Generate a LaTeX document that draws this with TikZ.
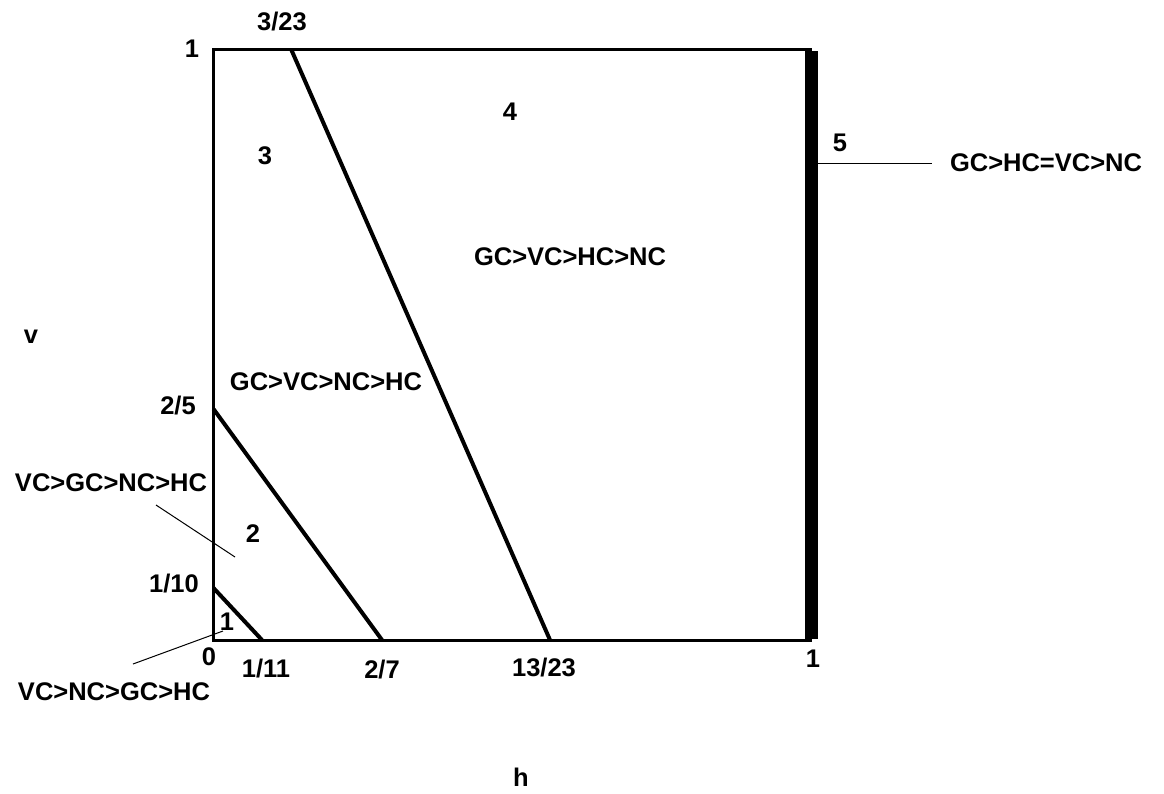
\documentclass[tikz,border=0pt]{standalone}
\usepackage{fontspec}
\setmainfont{Liberation Sans}
\begin{document}
\begin{tikzpicture}[x=1pt,y=-1pt,
  lbl/.style={inner sep=0pt,font=\fontsize{25.5}{30}\selectfont\bfseries},
  frame/.style={line width=3pt},
  bound/.style={line width=4pt},
  thin/.style={line width=1pt}]
\useasboundingbox (0,0) rectangle (1164,793);
% corners and tick points
\coordinate (O) at (213.5,640);
\coordinate (TL) at (213.5,49);
\coordinate (TR) at (811.5,49);
\coordinate (BR) at (811.5,640);
\coordinate (v110) at (213.5,588);
\coordinate (h111) at (262,640);
\coordinate (v25) at (213.5,409);
\coordinate (h27) at (382,640);
\coordinate (h323) at (291,49);
\coordinate (h1323) at (550,640);
% frame
\draw[frame] (BR) -- (O) -- (TL) -- (TR);
\draw[line width=13pt] ([yshift=-2pt]TR) -- ([yshift=1.5pt]BR);
% boundaries
\draw[bound] (v110) -- (h111);
\draw[bound] (v25) -- (h27);
\draw[bound] (h323) -- (h1323);
% axis labels
\node[lbl] (t1) at (192,49) {1};
\node[lbl] (t323) at (282,22) {3/23};
\node[lbl] (t0) at (209,657) {0};
\node[lbl] (t111) at (266,669) {1/11};
\node[lbl] (t27) at (382,670) {2/7};
\node[lbl] (t1323) at (544,668) {13/23};
\node[lbl] (tr1) at (813,659) {1};
\node[lbl] (t110) at (174,584) {1/10};
\node[lbl] (t25) at (178,406) {2/5};
\node[lbl] (vv) at (31,337) {v};
\node[lbl] (hh) at (521,777) {h};
% region numbers
\node[lbl] (r1) at (227,622) {1};
\node[lbl] (r2) at (253,534) {2};
\node[lbl] (r3) at (265,156) {3};
\node[lbl] (r4) at (510,112) {4};
\node[lbl] (r5) at (840,143) {5};
% orderings
\node[lbl] (o4) at (570,257) {GC>VC>HC>NC};
\node[lbl] (o3) at (326,382) {GC>VC>NC>HC};
\node[lbl] (o2) at (111,483) {VC>GC>NC>HC};
\node[lbl] (o1) at (114,692) {VC>NC>GC>HC};
\node[lbl] (o5) at (1046,163) {GC>HC=VC>NC};
% leader lines
\coordinate (l2a) at (156,505);
\coordinate (l2b) at (235,557);
\coordinate (l1a) at (133,664);
\coordinate (l1b) at (223,631);
\coordinate (l5a) at (818,163);
\coordinate (l5b) at (932,163);
\draw[thin] (l2a) -- (l2b);
\draw[thin] (l1a) -- (l1b);
\draw[thin] (l5a) -- (l5b);
\end{tikzpicture}
\end{document}
